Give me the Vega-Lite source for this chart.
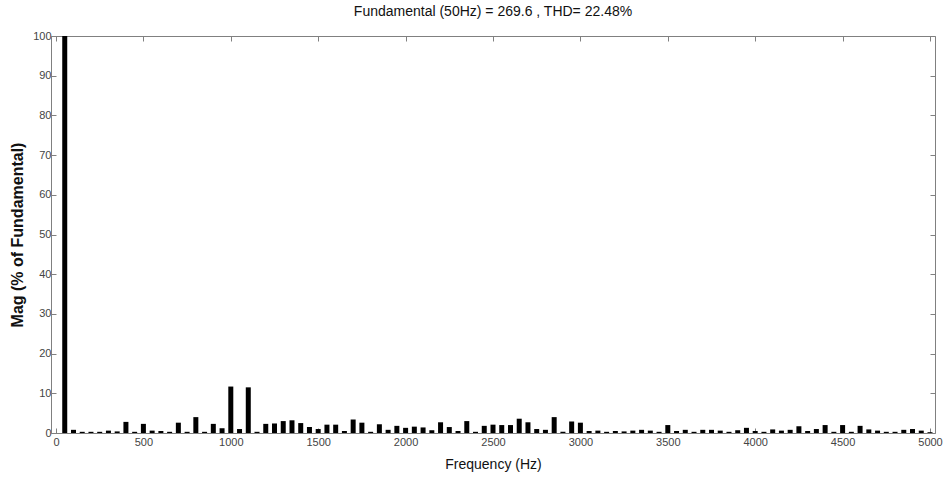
{
  "$schema": "https://vega.github.io/schema/vega-lite/v6.json",
  "autosize": "none",
  "width": 884,
  "height": 397,
  "padding": {"left": 51, "top": 36, "right": 11, "bottom": 48},
  "background": "white",
  "title": {
    "text": "Fundamental (50Hz) = 269.6 , THD= 22.48%",
    "font": "Liberation Sans",
    "fontSize": 14,
    "fontWeight": "normal",
    "color": "#111111",
    "offset": 11,
    "anchor": "middle"
  },
  "config": {
    "view": {"stroke": null},
    "axis": {"grid": false}
  },
  "data": {
    "values": [
      {"freq": 50, "mag": 100},
      {"freq": 100, "mag": 0.8},
      {"freq": 150, "mag": 0.3},
      {"freq": 200, "mag": 0.3},
      {"freq": 250, "mag": 0.3},
      {"freq": 300, "mag": 0.6},
      {"freq": 350, "mag": 0.4},
      {"freq": 400, "mag": 2.8},
      {"freq": 450, "mag": 0.3},
      {"freq": 500, "mag": 2.3},
      {"freq": 550, "mag": 0.6},
      {"freq": 600, "mag": 0.5},
      {"freq": 650, "mag": 0.3},
      {"freq": 700, "mag": 2.6},
      {"freq": 750, "mag": 0.3},
      {"freq": 800, "mag": 4.0},
      {"freq": 850, "mag": 0.3},
      {"freq": 900, "mag": 2.3},
      {"freq": 950, "mag": 1.2},
      {"freq": 1000, "mag": 11.7},
      {"freq": 1050, "mag": 1.0},
      {"freq": 1100, "mag": 11.5},
      {"freq": 1150, "mag": 0.3},
      {"freq": 1200, "mag": 2.3},
      {"freq": 1250, "mag": 2.4},
      {"freq": 1300, "mag": 3.0},
      {"freq": 1350, "mag": 3.2},
      {"freq": 1400, "mag": 2.5},
      {"freq": 1450, "mag": 1.5},
      {"freq": 1500, "mag": 1.0},
      {"freq": 1550, "mag": 2.1},
      {"freq": 1600, "mag": 2.1},
      {"freq": 1650, "mag": 0.5},
      {"freq": 1700, "mag": 3.4},
      {"freq": 1750, "mag": 2.6},
      {"freq": 1800, "mag": 0.3},
      {"freq": 1850, "mag": 2.2},
      {"freq": 1900, "mag": 0.8},
      {"freq": 1950, "mag": 1.8},
      {"freq": 2000, "mag": 1.3},
      {"freq": 2050, "mag": 1.6},
      {"freq": 2100, "mag": 1.4},
      {"freq": 2150, "mag": 0.7},
      {"freq": 2200, "mag": 2.7},
      {"freq": 2250, "mag": 1.5},
      {"freq": 2300, "mag": 0.5},
      {"freq": 2350, "mag": 3.0},
      {"freq": 2400, "mag": 0.3},
      {"freq": 2450, "mag": 1.8},
      {"freq": 2500, "mag": 2.1},
      {"freq": 2550, "mag": 2.0},
      {"freq": 2600, "mag": 2.0},
      {"freq": 2650, "mag": 3.6},
      {"freq": 2700, "mag": 2.7},
      {"freq": 2750, "mag": 1.0},
      {"freq": 2800, "mag": 0.8},
      {"freq": 2850, "mag": 4.0},
      {"freq": 2900, "mag": 0.3},
      {"freq": 2950, "mag": 2.9},
      {"freq": 3000, "mag": 2.6},
      {"freq": 3050, "mag": 0.5},
      {"freq": 3100, "mag": 0.6},
      {"freq": 3150, "mag": 0.3},
      {"freq": 3200, "mag": 0.5},
      {"freq": 3250, "mag": 0.4},
      {"freq": 3300, "mag": 0.6},
      {"freq": 3350, "mag": 0.8},
      {"freq": 3400, "mag": 0.6},
      {"freq": 3450, "mag": 0.3},
      {"freq": 3500, "mag": 2.0},
      {"freq": 3550, "mag": 0.5},
      {"freq": 3600, "mag": 0.8},
      {"freq": 3650, "mag": 0.3},
      {"freq": 3700, "mag": 0.8},
      {"freq": 3750, "mag": 0.8},
      {"freq": 3800, "mag": 0.6},
      {"freq": 3850, "mag": 0.3},
      {"freq": 3900, "mag": 0.7},
      {"freq": 3950, "mag": 1.3},
      {"freq": 4000, "mag": 0.5},
      {"freq": 4050, "mag": 0.3},
      {"freq": 4100, "mag": 0.9},
      {"freq": 4150, "mag": 0.6},
      {"freq": 4200, "mag": 0.8},
      {"freq": 4250, "mag": 1.7},
      {"freq": 4300, "mag": 0.5},
      {"freq": 4350, "mag": 1.0},
      {"freq": 4400, "mag": 2.0},
      {"freq": 4450, "mag": 0.3},
      {"freq": 4500, "mag": 2.0},
      {"freq": 4550, "mag": 0.3},
      {"freq": 4600, "mag": 1.8},
      {"freq": 4650, "mag": 0.9},
      {"freq": 4700, "mag": 0.6},
      {"freq": 4750, "mag": 0.3},
      {"freq": 4800, "mag": 0.3},
      {"freq": 4850, "mag": 0.8},
      {"freq": 4900, "mag": 1.0},
      {"freq": 4950, "mag": 0.6},
      {"freq": 5000, "mag": 0.2}
    ]
  },
  "resolve": {"axis": {"x": "independent", "y": "independent"}},
  "layer": [
    {
      "mark": {"type": "bar", "color": "black", "size": 5},
      "encoding": {
        "x": {
          "field": "freq",
          "type": "quantitative",
          "scale": {"domain": [0, 5000], "nice": false, "zero": true},
          "axis": {
            "orient": "bottom",
            "title": "Frequency (Hz)",
            "values": [0, 500, 1000, 1500, 2000, 2500, 3000, 3500, 4000, 4500, 5000],
            "format": "d",
            "labelFont": "Liberation Sans",
            "labelFontSize": 11,
            "labelColor": "#444444",
            "labelPadding": 8,
            "labelFlush": false,
            "labelOverlap": false,
            "tickSize": -5,
            "tickColor": "#808080",
            "domainColor": "#808080",
            "titleFont": "Liberation Sans",
            "titleFontSize": 14,
            "titleFontWeight": "normal",
            "titleColor": "#111111",
            "titlePadding": 10
          }
        },
        "y": {
          "field": "mag",
          "type": "quantitative",
          "scale": {"domain": [0, 100], "nice": false},
          "axis": {
            "orient": "left",
            "title": "Mag (% of Fundamental)",
            "values": [0, 10, 20, 30, 40, 50, 60, 70, 80, 90, 100],
            "labelFont": "Liberation Sans",
            "labelFontSize": 11,
            "labelColor": "#444444",
            "labelPadding": 5,
            "labelFlush": false,
            "labelOverlap": false,
            "tickSize": -5,
            "tickColor": "#808080",
            "domainColor": "#808080",
            "titleFont": "Liberation Sans",
            "titleFontSize": 16,
            "titleFontWeight": "bold",
            "titleColor": "#111111",
            "titlePadding": 7
          }
        }
      }
    },
    {
      "mark": {"type": "bar", "opacity": 0},
      "encoding": {
        "x": {
          "field": "freq",
          "type": "quantitative",
          "scale": {"domain": [0, 5000], "nice": false},
          "axis": {
            "orient": "top",
            "title": null,
            "labels": false,
            "values": [0, 500, 1000, 1500, 2000, 2500, 3000, 3500, 4000, 4500, 5000],
            "tickSize": -5,
            "tickColor": "#808080",
            "domainColor": "#808080"
          }
        },
        "y": {
          "field": "mag",
          "type": "quantitative",
          "scale": {"domain": [0, 100], "nice": false},
          "axis": {
            "orient": "right",
            "title": null,
            "labels": false,
            "values": [0, 10, 20, 30, 40, 50, 60, 70, 80, 90, 100],
            "tickSize": -5,
            "tickColor": "#808080",
            "domainColor": "#808080"
          }
        }
      }
    }
  ]
}
